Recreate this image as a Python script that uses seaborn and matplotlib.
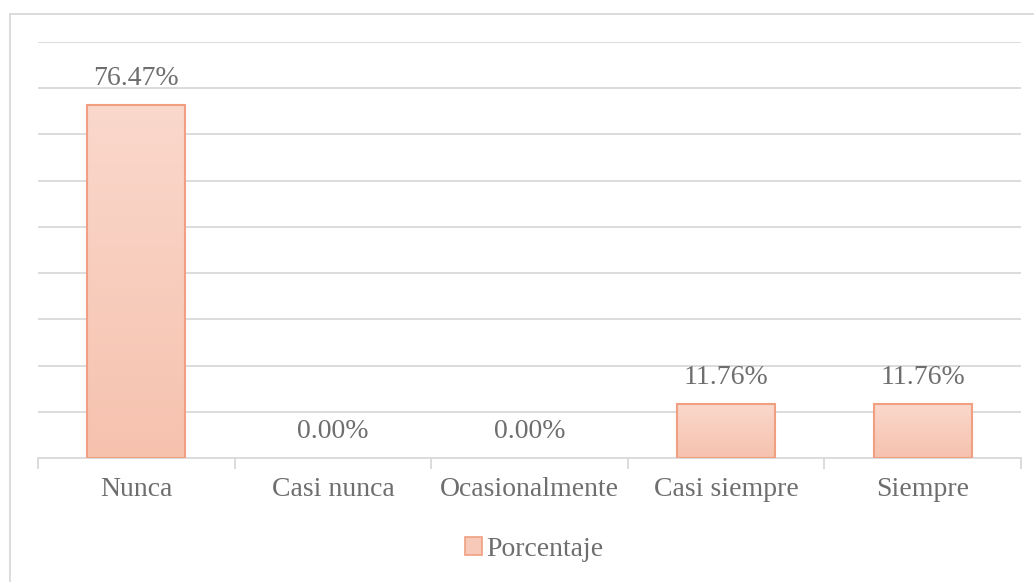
import numpy as np
import pandas as pd
import seaborn as sns
import matplotlib.pyplot as plt
from matplotlib.patches import Rectangle, Patch
from matplotlib.colors import LinearSegmentedColormap

categorias = ["Nunca", "Casi nunca", "Ocasionalmente", "Casi siempre", "Siempre"]
porcentaje = [76.47, 0.00, 0.00, 11.76, 11.76]
etiquetas = ["76.47%", "0.00%", "0.00%", "11.76%", "11.76%"]

df = pd.DataFrame({"categoria": categorias, "valor": porcentaje})

sns.set_style("white")
plt.rcParams["font.family"] = ["Liberation Serif", "DejaVu Serif"]
gris = "#6E6E6E"

fig = plt.figure(figsize=(10.34, 5.82), dpi=100)
W, H = 1034, 582
ax = fig.add_axes([38 / W, (H - 458) / H, (1021 - 38) / W, (458 - 42) / H])

sns.barplot(data=df, x="categoria", y="valor", ax=ax, width=0.5,
            color="#F7C9B8", edgecolor="#F0A080", linewidth=1.5, zorder=3)

# gradiente vertical en las barras
grad = LinearSegmentedColormap.from_list("g", ["#F6C2AE", "#FAD8CC"])
ax.set_ylim(0, 90)
ax.set_xlim(-0.5, 4.5)
for bar in ax.patches:
    x0, y0 = bar.get_x(), bar.get_y()
    w, h = bar.get_width(), bar.get_height()
    if h <= 0:
        bar.set_visible(False)
        continue
    bar.set_facecolor("none")
    im = ax.imshow(np.linspace(0, 1, 256).reshape(-1, 1), cmap=grad, aspect="auto",
                   extent=[x0, x0 + w, y0, y0 + h], origin="lower", zorder=2)
    im.set_clip_path(bar)

ax.set_yticks(np.arange(10, 91, 10))
ax.yaxis.grid(True, color="#D9D9D9", linewidth=1.3, zorder=0)
ax.tick_params(axis="y", left=False, labelleft=False)
ax.set_xticks(np.arange(-0.5, 4.6, 1), minor=True)
ax.tick_params(axis="x", which="minor", length=8, width=1.3, color="#D9D9D9", bottom=True)
ax.tick_params(axis="x", which="major", length=0, labelsize=20, labelcolor=gris, pad=14)
ax.set_xlabel("")
ax.set_ylabel("")
for s in ["top", "right", "left"]:
    ax.spines[s].set_visible(False)
ax.spines["bottom"].set_color("#D9D9D9")
ax.spines["bottom"].set_linewidth(1.3)

for i, (v, t) in enumerate(zip(porcentaje, etiquetas)):
    ax.annotate(t, (i, v), xytext=(0, 10), textcoords="offset points",
                ha="center", va="bottom", fontsize=20, color=gris)

leg = fig.legend(handles=[Patch(facecolor="#F7C9B8", edgecolor="#F0A080", linewidth=1.2)],
                 labels=["Porcentaje"], loc="center", bbox_to_anchor=(534 / W, (H - 549) / H),
                 frameon=False, fontsize=20, handlelength=0.6, handleheight=0.6,
                 handletextpad=0.15, labelcolor=gris)

# marco exterior del gráfico
fig.patches.append(Rectangle((10 / W, -0.1), 1.2, (H - 14) / H + 0.1,
                             transform=fig.transFigure, fill=False,
                             edgecolor="#D9D9D9", linewidth=1.3))

fig.savefig("out.png", dpi=100)
